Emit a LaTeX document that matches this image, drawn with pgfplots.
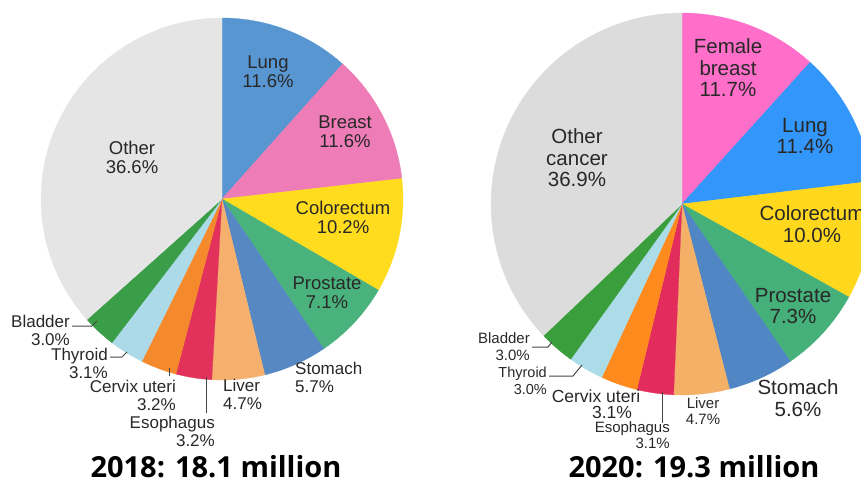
\documentclass[border=0pt]{standalone}
\usepackage{pgfplots}
\pgfplotsset{compat=1.18}
\usepackage{fontspec}
\setmainfont{Liberation Sans}
\newfontfamily\titlefont{Open Sans}
\definecolor{lung18}{RGB}{88,150,210}
\definecolor{breast18}{RGB}{238,124,182}
\definecolor{colo18}{RGB}{255,220,30}
\definecolor{prost18}{RGB}{74,178,124}
\definecolor{stom18}{RGB}{86,137,196}
\definecolor{liver18}{RGB}{244,176,108}
\definecolor{eso18}{RGB}{226,50,92}
\definecolor{cervix18}{RGB}{245,138,44}
\definecolor{thyroid18}{RGB}{172,218,232}
\definecolor{bladder18}{RGB}{58,158,72}
\definecolor{other18}{RGB}{229,229,229}
\definecolor{breast20}{RGB}{255,110,200}
\definecolor{lung20}{RGB}{50,150,250}
\definecolor{colo20}{RGB}{255,216,30}
\definecolor{prost20}{RGB}{70,176,122}
\definecolor{stom20}{RGB}{80,134,196}
\definecolor{liver20}{RGB}{245,176,104}
\definecolor{eso20}{RGB}{226,44,92}
\definecolor{cervix20}{RGB}{255,138,30}
\definecolor{thyroid20}{RGB}{172,220,232}
\definecolor{bladder20}{RGB}{58,158,60}
\definecolor{other20}{RGB}{220,220,220}
\definecolor{lbl}{RGB}{40,40,40}
\definecolor{lead}{RGB}{70,70,70}
% one pie slice: value in percent, colour; slices run clockwise from 12 o'clock
\newcommand\slice[2]{%
  \pgfmathsetmacro\sa{90-3.6*\cum}%
  \pgfmathsetmacro\sb{90-3.6*(\cum+#1)}%
  \pgfmathsetmacro\tmp{\cum+#1}\global\let\cum\tmp
  \edef\doplot{\noexpand\addplot[fill=#2,draw=#2,line width=0.3pt,domain=\sb:\sa,samples=90]
    ({cos(x)},{sin(x)}) -- (axis cs:0,0) -- cycle;}%
  \doplot}
% last slice closes the circle
\newcommand\lastslice[2]{%
  \pgfmathsetmacro\sa{90-3.6*\cum}%
  \edef\doplot{\noexpand\addplot[fill=#2,draw=#2,line width=0.3pt,domain=-270:\sa,samples=90]
    ({cos(x)},{sin(x)}) -- (axis cs:0,0) -- cycle;}%
  \doplot}
\newcommand\fs[2]{\fontsize{#1}{#2}\selectfont}
\begin{document}
\begin{tikzpicture}[x=1pt,y=1pt]
\useasboundingbox (0,0) rectangle (861,485);
% ---------- 2018 ----------
\begin{axis}[at={(222pt,286pt)},anchor=center,scale only axis,width=362pt,height=362pt,
  xmin=-1,xmax=1,ymin=-1,ymax=1,hide axis,clip=false]
\gdef\cum{0}
\slice{11.6}{lung18}
\slice{11.6}{breast18}
\slice{10.2}{colo18}
\slice{7.1}{prost18}
\slice{5.7}{stom18}
\slice{4.7}{liver18}
\slice{3.2}{eso18}
\slice{3.2}{cervix18}
\slice{3.1}{thyroid18}
\slice{3.0}{bladder18}
\lastslice{36.6}{other18}
\end{axis}
% ---------- 2020 ----------
\begin{axis}[at={(682pt,281pt)},anchor=center,scale only axis,width=382pt,height=382pt,
  xmin=-1,xmax=1,ymin=-1,ymax=1,hide axis,clip=false]
\gdef\cum{0}
\slice{11.7}{breast20}
\slice{11.4}{lung20}
\slice{10.0}{colo20}
\slice{7.3}{prost20}
\slice{5.6}{stom20}
\slice{4.7}{liver20}
\slice{3.1}{eso20}
\slice{3.1}{cervix20}
\slice{3.0}{thyroid20}
\slice{3.0}{bladder20}
\lastslice{36.9}{other20}
\end{axis}
% ---------- labels 2018 ----------
\begin{scope}[every node/.style={text=lbl,inner sep=0pt}]
\node[align=center,font=\fs{18.5}{19}] at (268,413) {Lung\\11.6\%};
\node[align=center,font=\fs{18.5}{19}] at (345,353) {Breast\\11.6\%};
\node[align=center,font=\fs{18.5}{19}] at (343,268) {Colorectum\\10.2\%};
\node[align=center,font=\fs{18.5}{19}] at (132,328) {Other\\36.6\%};
\node[align=center,font=\fs{18.5}{19}] at (327,192) {Prostate\\7.1\%};
\node[align=left,anchor=west,font=\fs{17}{18}] at (295,108) {Stomach\\5.7\%};
\node[align=left,anchor=west,font=\fs{17}{18}] at (223,91) {Liver\\4.7\%};
\node[align=right,anchor=east,font=\fs{17}{18}] at (215,54) {Esophagus\\3.2\%};
\node[align=right,anchor=east,font=\fs{17}{18}] at (176,90) {Cervix uteri\\3.2\%};
\node[align=right,anchor=east,font=\fs{17}{18}] at (108,122) {Thyroid\\3.1\%};
\node[align=right,anchor=east,font=\fs{17}{18}] at (70,155) {Bladder\\3.0\%};
% ---------- labels 2020 ----------
\node[align=center,font=\fs{20.5}{21.5}] at (728,417) {Female\\breast\\11.7\%};
\node[align=center,font=\fs{20.5}{21.5}] at (805,349) {Lung\\11.4\%};
\node[align=center,font=\fs{20.5}{21.5}] at (812,261) {Colorectum\\10.0\%};
\node[align=center,font=\fs{20.5}{21.5}] at (577,327) {Other\\cancer\\36.9\%};
\node[align=center,font=\fs{20.5}{21.5}] at (793,179) {Prostate\\7.3\%};
\node[align=center,font=\fs{20.5}{21.5}] at (798,87) {Stomach\\5.6\%};
\node[align=center,font=\fs{15}{16}] at (703,74) {Liver\\4.7\%};
\node[align=right,anchor=east,font=\fs{15}{16}] at (670,50) {Esophagus\\3.1\%};
\node[font=\fs{17.5}{18}] at (596,89) {Cervix uteri};
\node[font=\fs{17.5}{18}] at (612,73) {3.1\%};
\node[align=right,anchor=east,font=\fs{14.5}{17}] at (547,104) {Thyroid\\3.0\%};
\node[align=right,anchor=east,font=\fs{15}{17}] at (530,138) {Bladder\\3.0\%};
\end{scope}
% leader lines
\begin{scope}[draw=lead,line width=1pt]
\draw (206,108) -- (206,72);
\draw (169,117) -- (169,109);
\draw (110,128) -- (122,128) -- (127,133);
\draw (72,159) -- (92,159) -- (97,164);
\draw (662,93) -- (662,62);
\draw (549,109) -- (573,109) -- (582,120);
\draw (532,138) -- (548,138) -- (552,143);
\end{scope}
% titles
\node[anchor=base,inner sep=0pt,font=\titlefont\bfseries\fontsize{29}{31}\selectfont] at (216,7.5) {2018: 18.1 million};
\node[anchor=base,inner sep=0pt,font=\titlefont\bfseries\fontsize{29}{31}\selectfont] at (694,7.5) {2020: 19.3 million};
\end{tikzpicture}
\end{document}
